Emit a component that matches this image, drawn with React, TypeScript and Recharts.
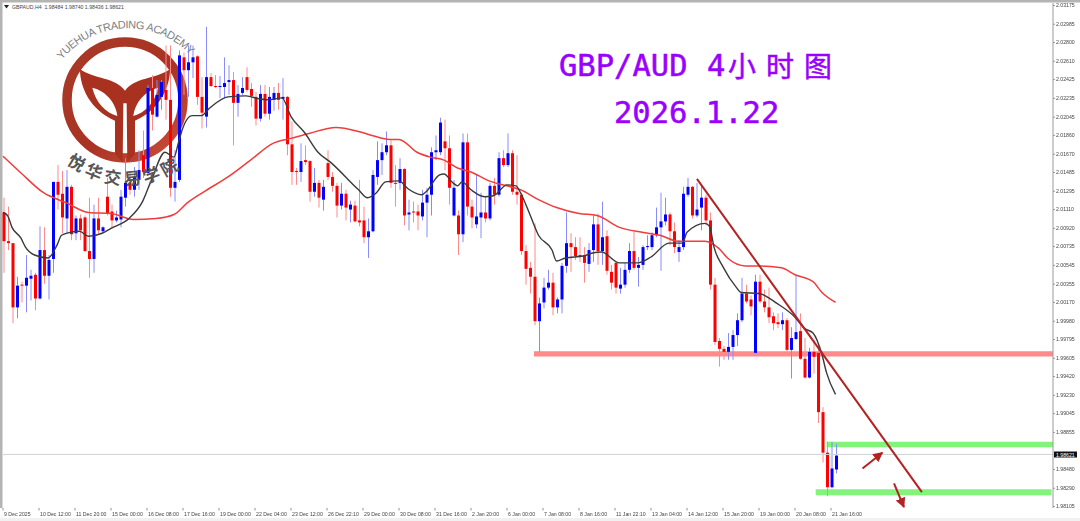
import { Bar, ComposedChart, Line, ReferenceArea, ReferenceLine, XAxis, YAxis } from "recharts";

// all candle prices below are in 1/10000 of a price unit, one entry per 4h bar
const opens = [
  20108, 20079, 20077, 20012, 20035, 20034, 20041, 20045, 20021, 20070,
  20044, 20061, 20139, 20127, 20102, 20134, 20087, 20102, 20103, 20069,
  20061, 20102, 20089, 20124, 20109, 20100, 20101, 20123, 20138, 20131,
  20141, 20166, 20148, 20234, 20205, 20225, 20232, 20222, 20133, 20141,
  20265, 20252, 20260, 20266, 20225, 20205, 20245, 20236, 20235, 20235,
  20240, 20242, 20219, 20229, 20245, 20233, 20225, 20203, 20228, 20208,
  20222, 20229, 20223, 20225, 20177, 20150, 20149, 20161, 20160, 20129,
  20138, 20121, 20158, 20144, 20135, 20115, 20127, 20111, 20115, 20100,
  20100, 20083, 20089, 20144, 20161, 20169, 20176, 20138, 20138, 20152,
  20106, 20109, 20109, 20104, 20118, 20126, 20169, 20169, 20180, 20173,
  20105, 20105, 20086, 20179, 20114, 20096, 20103, 20108, 20102, 20135,
  20126, 20163, 20156, 20168, 20129, 20126, 20069, 20052, 20043, 19998,
  20017, 20032, 20037, 20012, 20020, 20054, 20077, 20073, 20065, 20065,
  20056, 20070, 20096, 20069, 20084, 20048, 20057, 20031, 20035, 20050,
  20069, 20052, 20055, 20073, 20073, 20085, 20093, 20099, 20106, 20089,
  20068, 20073, 20126, 20134, 20105, 20113, 20123, 20100, 20035, 19978,
  19970, 19967, 19972, 19984, 19999, 20026, 20020, 19966, 20038, 20018,
  20012, 20003, 19997, 19995, 19999, 19969, 19980, 19988, 19960, 19941,
  19967, 19966, 19906, 19865, 19830, 19848,
];
const closes = [
  20079, 20077, 20012, 20034, 20034, 20042, 20044, 20021, 20070, 20044,
  20060, 20139, 20126, 20103, 20134, 20086, 20102, 20090, 20069, 20061,
  20102, 20090, 20093, 20107, 20100, 20103, 20124, 20138, 20131, 20144,
  20151, 20149, 20234, 20207, 20227, 20240, 20222, 20133, 20139, 20267,
  20252, 20260, 20265, 20225, 20209, 20245, 20236, 20235, 20236, 20239,
  20242, 20219, 20228, 20234, 20232, 20226, 20203, 20228, 20208, 20225,
  20229, 20222, 20225, 20177, 20149, 20149, 20160, 20159, 20129, 20138,
  20123, 20134, 20144, 20135, 20115, 20127, 20113, 20116, 20099, 20098,
  20083, 20089, 20146, 20161, 20169, 20176, 20138, 20137, 20152, 20105,
  20108, 20108, 20105, 20118, 20126, 20169, 20171, 20199, 20173, 20133,
  20133, 20086, 20179, 20114, 20103, 20104, 20108, 20102, 20135, 20126,
  20163, 20156, 20168, 20129, 20126, 20069, 20051, 20043, 19998, 20016,
  20032, 20037, 20012, 20020, 20054, 20077, 20073, 20064, 20064, 20057,
  20070, 20096, 20069, 20083, 20049, 20037, 20032, 20035, 20050, 20069,
  20052, 20055, 20073, 20074, 20085, 20093, 20099, 20106, 20089, 20073,
  20073, 20127, 20134, 20105, 20111, 20123, 20100, 20035, 19977, 19970,
  19967, 19972, 19984, 19999, 20026, 20018, 20013, 20038, 20018, 20012,
  20002, 19996, 19995, 19999, 19969, 19981, 19987, 19960, 19941, 19967,
  19962, 19906, 19865, 19830, 19849, 19862,
];
const highs = [
  20123, 20114, 20077, 20043, 20038, 20065, 20050, 20047, 20094, 20093,
  20065, 20139, 20156, 20150, 20151, 20136, 20105, 20106, 20105, 20123,
  20116, 20123, 20094, 20143, 20116, 20110, 20131, 20163, 20149, 20154,
  20171, 20191, 20237, 20247, 20242, 20242, 20277, 20277, 20171, 20272,
  20270, 20277, 20277, 20267, 20245, 20296, 20249, 20247, 20246, 20265,
  20257, 20250, 20237, 20245, 20255, 20239, 20230, 20237, 20237, 20235,
  20235, 20239, 20244, 20226, 20200, 20153, 20178, 20176, 20161, 20153,
  20141, 20141, 20171, 20149, 20138, 20138, 20131, 20120, 20120, 20141,
  20114, 20102, 20151, 20180, 20178, 20190, 20181, 20156, 20163, 20153,
  20121, 20119, 20116, 20131, 20133, 20174, 20186, 20204, 20202, 20186,
  20141, 20110, 20188, 20188, 20121, 20146, 20128, 20124, 20138, 20143,
  20169, 20171, 20188, 20171, 20166, 20128, 20075, 20058, 20097, 20022,
  20042, 20050, 20047, 20022, 20057, 20108, 20087, 20083, 20083, 20073,
  20077, 20105, 20107, 20119, 20090, 20055, 20058, 20052, 20057, 20077,
  20089, 20063, 20075, 20085, 20088, 20113, 20128, 20123, 20108, 20098,
  20080, 20134, 20143, 20135, 20138, 20136, 20126, 20108, 20042, 19981,
  19973, 19986, 19989, 20006, 20042, 20035, 20024, 20045, 20045, 20030,
  20032, 20007, 20006, 20007, 20001, 19992, 20045, 20006, 19981, 19971,
  19979, 19976, 19911, 19876, 19876, 19874,
];
const lows = [
  20047, 20070, 19996, 20001, 20017, 20007, 20019, 20009, 20020, 20036,
  20020, 20047, 20111, 20087, 20087, 20080, 20080, 20080, 20068, 20042,
  20047, 20087, 20088, 20105, 20092, 20098, 20093, 20114, 20126, 20124,
  20131, 20143, 20146, 20191, 20204, 20212, 20202, 20124, 20119, 20139,
  20227, 20225, 20244, 20217, 20193, 20194, 20235, 20234, 20224, 20224,
  20227, 20176, 20205, 20227, 20230, 20215, 20196, 20200, 20205, 20202,
  20211, 20212, 20202, 20166, 20136, 20136, 20139, 20156, 20119, 20124,
  20113, 20110, 20141, 20129, 20103, 20111, 20100, 20098, 20098, 20094,
  20077, 20062, 20088, 20136, 20146, 20166, 20133, 20114, 20131, 20095,
  20090, 20098, 20090, 20100, 20083, 20105, 20161, 20166, 20151, 20116,
  20104, 20065, 20078, 20105, 20092, 20092, 20082, 20098, 20100, 20116,
  20124, 20154, 20154, 20126, 20116, 20065, 20035, 20026, 19994, 19967,
  20011, 20030, 20004, 20006, 20006, 20047, 20048, 20060, 20058, 20037,
  20048, 20058, 20055, 20055, 20045, 20030, 20026, 20026, 20032, 20047,
  20050, 20033, 20050, 20070, 20070, 20083, 20049, 20095, 20075, 20067,
  20058, 20070, 20124, 20102, 20103, 20090, 20095, 20030, 19974, 19952,
  19959, 19959, 19959, 19973, 19997, 20016, 20004, 19965, 20016, 20007,
  19996, 19989, 19991, 19989, 19967, 19940, 19979, 19959, 19940, 19940,
  19945, 19895, 19855, 19821, 19829, 19844,
];

// moving averages, read at the bars listed next to them
const fastMaBars = [0, 1, 2, 4, 5, 7, 10, 12, 13, 15, 17, 19, 22, 24, 28, 31, 33, 36, 38, 39, 40, 42, 44, 46, 50, 54, 57, 59, 62, 64, 67, 70, 73, 79, 81, 83, 85, 88, 90, 93, 94, 97, 98, 100, 101, 102, 104, 107, 109, 112, 114, 115, 117, 119, 122, 123, 125, 129, 131, 133, 137, 141, 144, 148, 151, 152, 156, 157, 158, 160, 163, 164, 168, 172, 176, 178, 180, 182, 183, 185];
const fastMaValues = [20108, 20105, 20093, 20082, 20073, 20065, 20062, 20075, 20085, 20088, 20089, 20084, 20087, 20092, 20102, 20119, 20141, 20169, 20164, 20179, 20194, 20206, 20206, 20214, 20225, 20226, 20223, 20222, 20224, 20205, 20189, 20169, 20158, 20131, 20123, 20128, 20139, 20140, 20132, 20126, 20129, 20146, 20147, 20138, 20135, 20139, 20131, 20124, 20125, 20136, 20135, 20128, 20107, 20085, 20070, 20059, 20062, 20064, 20067, 20068, 20057, 20057, 20063, 20077, 20077, 20088, 20097, 20094, 20073, 20053, 20032, 20027, 20026, 20016, 20002, 19991, 19986, 19964, 19946, 19924];
const slowMaBars = [0, 4, 9, 14, 19, 24, 29, 34, 38, 41, 45, 50, 55, 60, 64, 68, 74, 79, 82, 86, 88, 92, 95, 98, 101, 104, 108, 112, 115, 119, 123, 128, 132, 137, 142, 146, 150, 156, 159, 161, 165, 168, 173, 176, 180, 182, 185];
const slowMaValues = [20165, 20148, 20128, 20118, 20108, 20107, 20101, 20102, 20106, 20118, 20130, 20144, 20161, 20178, 20183, 20188, 20194, 20190, 20186, 20182, 20182, 20169, 20164, 20161, 20153, 20149, 20140, 20135, 20131, 20121, 20113, 20107, 20105, 20093, 20088, 20085, 20079, 20079, 20072, 20062, 20054, 20054, 20052, 20045, 20038, 20027, 20017];

// 1.98665 sits under the last-price box in the picture, so it has no label here
const priceTicks = [2.03175, 2.02985, 2.028, 2.0261, 2.02425, 2.02235, 2.02045, 2.0186, 2.0167, 2.01485, 2.01295, 2.0111, 2.0092, 2.00735, 2.00545, 2.00355, 2.0017, 1.9998, 1.99795, 1.99605, 1.9942, 1.9923, 1.99045, 1.98855, 1.9848, 1.9829, 1.98105];
const timeLabels = ["9 Dec 2025", "10 Dec 12:00", "11 Dec 20:00", "15 Dec 00:00", "16 Dec 08:00", "17 Dec 16:00", "19 Dec 00:00", "22 Dec 04:00", "23 Dec 12:00", "26 Dec 22:10", "29 Dec 00:00", "30 Dec 08:00", "31 Dec 16:00", "2 Jan 20:00", "6 Jan 00:00", "7 Jan 08:00", "8 Jan 16:00", "11 Jan 22:10", "13 Jan 04:00", "14 Jan 12:00", "15 Jan 20:00", "19 Jan 00:00", "20 Jan 08:00", "21 Jan 16:00"];
const timeTicks = timeLabels.map((_, i) => i * 8);

const rows = opens.map((open, i) => {
  const fast = fastMaBars.indexOf(i);
  const slow = slowMaBars.indexOf(i);
  return {
    bar: i,
    up: closes[i] > open,
    wick: [lows[i] / 10000, highs[i] / 10000],
    body: [Math.min(open, closes[i]) / 10000, Math.max(open, closes[i]) / 10000],
    fastMa: fast >= 0 ? fastMaValues[fast] / 10000 : null,
    slowMa: slow >= 0 ? slowMaValues[slow] / 10000 : null,
  };
});

const WickShape = (props: any) => (
  <rect x={props.x} y={props.y} width={props.width} height={props.height} fill={props.payload.up ? "#8a8aff" : "#ff8a8a"} />
);
const BodyShape = (props: any) => (
  <rect x={props.x} y={props.y} width={props.width} height={Math.max(props.height, 1)} fill={props.payload.up ? "#0000ff" : "#ff0000"} />
);

const TimeTick = ({ x, index }: any) => (
  <g>
    <line x1={x} x2={x} y1={508} y2={510.5} stroke="#777" strokeWidth={0.8} />
    <text x={x + 1} y={515.5} fontSize={5.2} fill="#444" fontFamily="Liberation Sans">
      {timeLabels[index]}
    </text>
  </g>
);

function Logo() {
  return (
    <svg width={1080} height={521} style={{ position: "absolute", left: 0, top: 0 }}>
      <defs>
        <linearGradient id="ring" x1="0" y1="0" x2="1" y2="1">
          <stop offset="0" stopColor="#a83a26" />
          <stop offset="0.55" stopColor="#a93324" />
          <stop offset="1" stopColor="#cc4f3a" />
        </linearGradient>
        <marker id="arrowHead" markerWidth="5" markerHeight="5" refX="4.5" refY="2.5" orient="auto">
          <path d="M0,0 L5,2.5 L0,5 Z" fill="#b22222" />
        </marker>
      </defs>
      <rect x={0} y={0} width={1080} height={521} fill="#ffffff" />
      <rect x={0} y={0} width={1080} height={2.5} fill="#b4b4b4" />
      <rect x={0} y={0} width={2.5} height={508} fill="#b4b4b4" />
      <rect x={0} y={518} width={1080} height={3} fill="#f1f1f1" />
      <circle cx={125} cy={100} r={58} fill="none" stroke="url(#ring)" strokeWidth={9.5} />
      <g transform="scale(0.3333)" fill="#a8321f">
        <path d="M240 208 C285 238 345 232 375 272 C405 232 465 238 510 208 C510 262 480 330 405 362 L405 462 L382 487 L380 310 L370 310 L368 487 L345 462 L345 362 C270 330 240 262 240 208 Z" />
        <path d="M277 263 C318 272 348 310 352 348 C318 338 288 310 277 263 Z" fill="#ffffff" />
        <path d="M475 263 C434 272 404 310 400 348 C434 338 464 310 475 263 Z" fill="#ffffff" />
      </g>
    </svg>
  );
}

function Overlay() {
  return (
    <svg width={1080} height={521} style={{ position: "absolute", left: 0, top: 0, pointerEvents: "none" }}>
      <path d="M4 5 L9 5 L6.5 8.5 Z" fill="#222" />
      <text x={12} y={9} fontSize={5.2} fill="#444" fontFamily="Liberation Sans" style={{ whiteSpace: "pre" }}>
        GBPAUD,H4  1.98484 1.98740 1.98436 1.98621
      </text>
      <path id="logoTop" d="M62 60 A85 85 0 0 1 192 57" fill="none" />
      <text fontSize={11} fill="#808080" fontFamily="Liberation Sans">
        <textPath href="#logoTop" textLength={145}>YUEHUA TRADING ACADEMY</textPath>
      </text>
      <path id="logoBottom" d="M66 163 Q127 207 188 163" fill="none" />
      <text fontSize={17} fontWeight={700} fill="#565656" fontFamily="Noto Sans CJK SC" letterSpacing={4}>
        <textPath href="#logoBottom">悦华交易学院</textPath>
      </text>
      <g fill="#9900ff" stroke="#9900ff" strokeWidth={0.5}>
        <text x={559} y={76} fontSize={30.5} fontFamily="DejaVu Sans Mono">GBP/AUD</text>
        <text x={707} y={76} fontSize={30.5} fontFamily="DejaVu Sans Mono">4</text>
        <text x={728} y={77} fontSize={28} fontFamily="Noto Sans CJK SC" letterSpacing={10}>小时图</text>
        <text x={614} y={123} fontSize={30.5} fontFamily="DejaVu Sans Mono">2026.1.22</text>
      </g>
      <rect x={1054} y={451.5} width={23} height={6} fill="#111" />
      <text x={1056} y={456.5} fontSize={5.2} fill="#fff" fontFamily="Liberation Sans">1.98621</text>
    </svg>
  );
}

export default function App() {
  return (
    <div style={{ position: "absolute", left: 0, top: 0, width: 1080, height: 521, overflow: "hidden", background: "#fff" }}>
      <Logo />
      <div style={{ position: "absolute", left: 0, top: 0, filter: "blur(0.4px)" }}>
        <ComposedChart width={1080} height={521} data={rows} margin={{ top: 3, left: 3, right: 0, bottom: 0 }} barGap={0}>
          <XAxis
            xAxisId="time"
            dataKey="bar"
            type="number"
            domain={[0, 233.33]}
            ticks={timeTicks}
            interval={0}
            height={13}
            stroke="#9a9a9a"
            tickLine={false}
            tick={<TimeTick />}
          />
          {/* bars sit about 3/4 px left of their scale position, these domains pull them back */}
          <XAxis xAxisId="wicks" dataKey="bar" type="number" domain={[-0.167, 233.163]} hide />
          <XAxis xAxisId="bodies" dataKey="bar" type="number" domain={[-0.167, 233.163]} hide />
          <YAxis
            type="number"
            orientation="right"
            domain={[1.9809, 2.032]}
            allowDataOverflow
            ticks={priceTicks}
            interval={0}
            width={27}
            stroke="#9a9a9a"
            tickSize={2}
            tickMargin={1}
            tick={{ fontSize: 5.2, fill: "#444", fontFamily: "Liberation Sans" }}
            tickFormatter={(v: number) => v.toFixed(5)}
          />
          <Bar xAxisId="wicks" dataKey="wick" barSize={1} shape={WickShape} isAnimationActive={false} />
          <Bar xAxisId="bodies" dataKey="body" barSize={3} shape={BodyShape} isAnimationActive={false} />
          <ReferenceLine xAxisId="time" y={1.98632} stroke="#cdd3da" strokeWidth={1} />
          <Line xAxisId="time" dataKey="slowMa" type="monotone" connectNulls stroke="#f23b3b" strokeWidth={1.5} dot={false} isAnimationActive={false} />
          <Line xAxisId="time" dataKey="fastMa" type="monotone" connectNulls stroke="#3a3a3a" strokeWidth={1.4} dot={false} isAnimationActive={false} />
          <ReferenceArea xAxisId="time" x1={118} x2={233.33} y1={1.99622} y2={1.99675} fill="#ff8a8a" fillOpacity={1} stroke="none" />
          <ReferenceArea xAxisId="time" x1={183} x2={233.33} y1={1.98705} y2={1.9876} fill="#80f57a" fillOpacity={1} stroke="none" />
          <ReferenceArea xAxisId="time" x1={180.6} x2={233} y1={1.9822} y2={1.9828} fill="#80f57a" fillOpacity={1} stroke="none" />
          <ReferenceLine xAxisId="time" segment={[{ x: 154.2, y: 2.0142 }, { x: 204.2, y: 1.9825 }]} stroke="#b22222" strokeWidth={2} />
          <ReferenceLine xAxisId="time" segment={[{ x: 191, y: 1.9849 }, { x: 195.4, y: 1.9865 }]} stroke="#b22222" strokeWidth={2} markerEnd="url(#arrowHead)" />
          <ReferenceLine xAxisId="time" segment={[{ x: 198, y: 1.9834 }, { x: 200.2, y: 1.981 }]} stroke="#b22222" strokeWidth={2} markerEnd="url(#arrowHead)" />
        </ComposedChart>
      </div>
      <Overlay />
    </div>
  );
}
